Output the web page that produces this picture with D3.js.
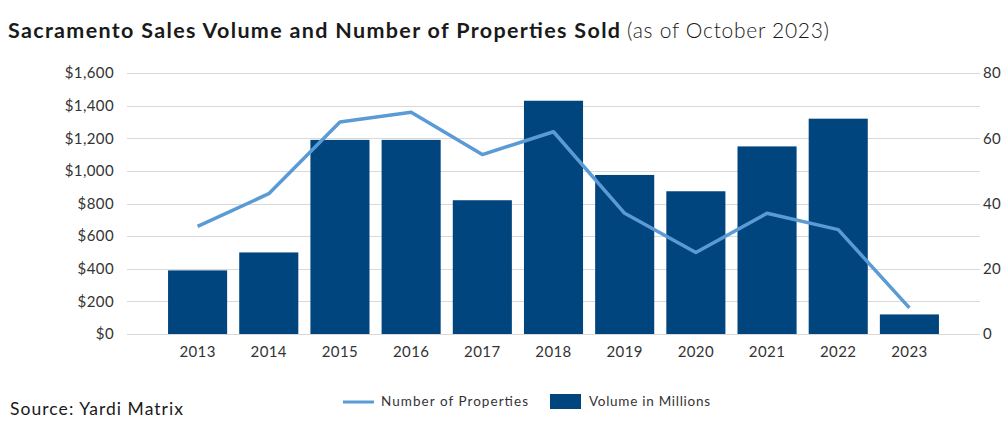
<!DOCTYPE html>
<html>
<head>
<meta charset="utf-8">
<script src="https://cdn.jsdelivr.net/npm/d3@7"></script>
<style>
  body { margin: 0; background: #fff; }
  svg text { font-family: Lato, "Noto Sans", sans-serif; }
</style>
</head>
<body>
<svg id="chart" width="1007" height="433"></svg>
<script>
// values
const years = ["2013", "2014", "2015", "2016", "2017", "2018", "2019", "2020", "2021", "2022", "2023"];
const volume = [390, 500, 1190, 1190, 820, 1430, 975, 875, 1150, 1320, 120];
const properties = [33, 43, 65, 68, 55, 62, 37, 25, 37, 32, 8];
const leftTicks = [0, 200, 400, 600, 800, 1000, 1200, 1400, 1600];
const rightTicks = [0, 20, 40, 60, 80];
const gridTicks = [0, 10, 20, 30, 40, 50, 60, 70, 80];

const barColor = "#00457e";
const lineColor = "#5b9bd5";

const svg = d3.select("#chart");

// plot frame
const gridLeft = 127, gridRight = 980;
const plotTop = 73, plotBottom = 334;

const x = d3.scaleBand()
  .domain(years)
  .range([162, 945])
  .paddingInner(0.17)
  .paddingOuter(0.085);

const yLeft = d3.scaleLinear().domain([0, 1600]).range([plotBottom, plotTop]);
const yRight = d3.scaleLinear().domain([0, 80]).range([plotBottom, plotTop]);

// title - the original font is wider than Lato so stretch it to the same length
svg.append("text")
  .attr("x", 8)
  .attr("y", 38)
  .attr("font-size", 21.5)
  .attr("font-weight", 700)
  .attr("fill", "#1a1a1a")
  .attr("textLength", 612)
  .attr("lengthAdjust", "spacing")
  .text("Sacramento Sales Volume and Number of Properties Sold");
svg.append("text")
  .attr("x", 627)
  .attr("y", 38)
  .attr("font-size", 21)
  .attr("font-weight", 300)
  .attr("fill", "#1a1a1a")
  .attr("textLength", 202)
  .attr("lengthAdjust", "spacing")
  .text("(as of October 2023)");

// gridlines (every 10 on the right scale)
svg.append("g")
  .selectAll("line")
  .data(gridTicks)
  .join("line")
  .attr("x1", gridLeft)
  .attr("x2", gridRight)
  .attr("y1", d => Math.round(yRight(d)) + 0.5)
  .attr("y2", d => Math.round(yRight(d)) + 0.5)
  .attr("stroke", "#d9d9d9")
  .attr("stroke-width", 1.2);

function styleTicks(g) {
  g.select(".domain").remove();
  g.selectAll("text")
    .attr("font-size", 15)
    .attr("letter-spacing", 0.4)
    .attr("fill", "#333")
    .attr("font-family", "Lato, 'Noto Sans', sans-serif");
}

// left axis
svg.append("g")
  .attr("transform", "translate(" + (gridLeft - 13) + ",0)")
  .call(d3.axisLeft(yLeft).tickValues(leftTicks).tickSize(0).tickPadding(0)
    .tickFormat(d => "$" + d3.format(",")(d)))
  .call(styleTicks);

// right axis
svg.append("g")
  .attr("transform", "translate(" + (gridRight + 3) + ",0)")
  .call(d3.axisRight(yRight).tickValues(rightTicks).tickSize(0).tickPadding(0))
  .call(styleTicks);

// x axis
svg.append("g")
  .attr("transform", "translate(0," + plotBottom + ")")
  .call(d3.axisBottom(x).tickSize(0).tickPadding(12))
  .call(styleTicks);

// bars
svg.append("g")
  .selectAll("rect")
  .data(years)
  .join("rect")
  .attr("x", d => x(d))
  .attr("width", x.bandwidth())
  .attr("y", (d, i) => yLeft(volume[i]))
  .attr("height", (d, i) => yLeft(0) - yLeft(volume[i]))
  .attr("fill", barColor);

// line
const line = d3.line()
  .x((d, i) => x(years[i]) + x.bandwidth() / 2)
  .y(d => yRight(d));

svg.append("path")
  .datum(properties)
  .attr("d", line)
  .attr("fill", "none")
  .attr("stroke", lineColor)
  .attr("stroke-width", 3.5)
  .attr("stroke-linejoin", "round");

// source
svg.append("text")
  .attr("x", 10)
  .attr("y", 415)
  .attr("font-size", 17.5)
  .attr("font-weight", 400)
  .attr("fill", "#1a1a1a")
  .attr("textLength", 173)
  .attr("lengthAdjust", "spacing")
  .text("Source: Yardi Matrix");

// legend
const legend = svg.append("g").attr("font-size", 13.5).attr("fill", "#333");
legend.append("line")
  .attr("x1", 343).attr("x2", 374)
  .attr("y1", 402).attr("y2", 402)
  .attr("stroke", lineColor).attr("stroke-width", 3);
legend.append("text").attr("x", 381).attr("y", 406)
  .attr("textLength", 147).attr("lengthAdjust", "spacing")
  .text("Number of Properties");
legend.append("rect")
  .attr("x", 550).attr("y", 394).attr("width", 31).attr("height", 15)
  .attr("fill", barColor);
legend.append("text").attr("x", 589).attr("y", 406)
  .attr("textLength", 121).attr("lengthAdjust", "spacing")
  .text("Volume in Millions");
</script>
</body>
</html>
